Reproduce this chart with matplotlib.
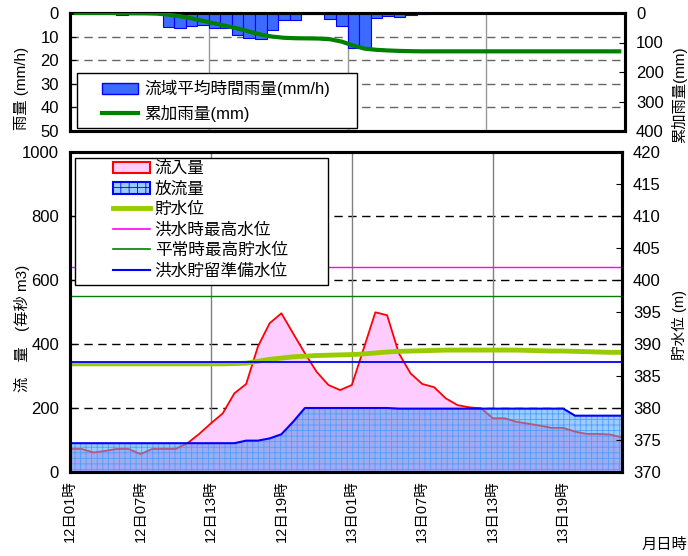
import matplotlib
matplotlib.use("Agg")
import matplotlib.pyplot as plt
import numpy as np
from matplotlib.patches import Patch, Rectangle
from matplotlib.lines import Line2D

# 時刻 (12日01時 からの経過時間)
hours = np.arange(48)
time_ticks = [0, 6, 12, 18, 24, 30, 36, 42]
time_labels = ["12日01時", "12日07時", "12日13時", "12日19時",
               "13日01時", "13日07時", "13日13時", "13日19時"]

# 流域平均時間雨量 (mm/h)
rain = [0, 0, 0, 0, 1.0, 0, 0, 0, 6.0, 6.5, 5.7, 4.9, 6.3, 6.5, 9.4, 10.5,
        11.0, 7.4, 3.0, 3.0, 0.3, 0.3, 2.4, 5.7, 15.0, 15.0, 2.1, 1.4, 1.7, 0.8, 0.4, 0.2,
        0, 0, 0, 0, 0, 0, 0, 0, 0, 0, 0, 0, 0, 0, 0, 0]
# 累加雨量 (mm)
rain_cum = [0, 0, 0, 0, 1, 1, 1, 2, 5.5, 11, 18, 26.5, 35.5, 44, 52.5, 63,
            73, 80, 84, 85.6, 86, 86.6, 89, 97, 110.5, 121, 124.8, 127, 128.5, 129.5, 130, 130,
            130, 130, 130, 130, 130, 130, 130, 130, 130, 130, 130, 130, 130, 130, 130, 130]

# 流入量・放流量 (m3/s)
inflow = [72, 72, 61, 66, 72, 72, 56, 72, 72, 72, 90, 119, 152, 183, 246, 275,
          392, 465, 496, 433, 371, 313, 272, 256, 272, 385, 499, 490, 371, 308, 275, 265,
          230, 209, 202, 199, 168, 168, 157, 151, 145, 138, 138, 126, 119, 119, 117, 108]
outflow = [90, 90, 90, 90, 90, 90, 90, 90, 90, 90, 90, 90, 90, 90, 90, 98,
           98, 105, 118, 157, 200, 200, 200, 200, 200, 200, 200, 200, 198, 198, 198, 198,
           198, 198, 198, 198, 198, 198, 198, 198, 198, 198, 198, 176, 176, 176, 176, 176]

# 貯水位 (m)
level = [386.9, 386.9, 386.9, 386.9, 386.9, 386.9, 386.9, 386.9, 386.9, 386.9, 386.9, 386.9,
         386.9, 386.9, 386.95, 387.0, 387.3, 387.6, 387.8, 388.0, 388.1, 388.2, 388.25, 388.3,
         388.35, 388.45, 388.6, 388.75, 388.85, 388.9, 388.95, 389.0, 389.05, 389.05, 389.05, 389.05,
         389.05, 389.05, 389.05, 389.0, 388.95, 388.9, 388.9, 388.85, 388.8, 388.75, 388.7, 388.7]
flood_max_level = 402.0
normal_max_level = 397.5
flood_reserve_level = 387.2

plt.rcParams["font.family"] = ["Liberation Sans", "Noto Sans CJK JP", "DejaVu Sans"]
plt.rcParams["hatch.linewidth"] = 0.6

fig = plt.figure(figsize=(6.88, 5.56), dpi=100)
W, H = 688, 556
ax_r = fig.add_axes([70 / W, 1 - 131 / H, 555 / W, 118 / H])
ax_q = fig.add_axes([70 / W, 1 - 472 / H, 552 / W, 320 / H])

tick_fs = 12

# ---- 雨量 ----
ax_r.bar(hours, rain, width=1, align="edge", color="#3d6bff", edgecolor="#0000ff",
         linewidth=0.8, zorder=2)
ax_r.set_xlim(0, 48)
ax_r.set_ylim(50, 0)
ax_r.set_yticks(range(0, 51, 10))
ax_r.set_xticks([])
for v in (10, 20, 30, 40):
    ax_r.axhline(v, color="#666666", lw=1, ls=(0, (6, 4)), zorder=1)
for v in (12, 24, 36):
    ax_r.axvline(v, color="#999999", lw=1, zorder=1)
ax_r.tick_params(axis="y", direction="in", length=4, labelsize=tick_fs, pad=8)
ax_r.set_zorder(1)

ax_c = ax_r.twinx()
ax_c.plot(hours + 0.5, rain_cum, color="#008000", lw=3, zorder=3)
ax_c.set_ylim(400, 0)
ax_c.set_yticks(range(0, 401, 100))
ax_c.tick_params(axis="y", direction="in", length=4, labelsize=tick_fs, pad=8)
for a in (ax_r, ax_c):
    for s in a.spines.values():
        s.set_linewidth(2.2)

# 凡例枠 (雨量)
ax_c.add_patch(Rectangle((0.0126, 0.0254), 0.504, 0.466, transform=ax_c.transAxes,
                         facecolor="white", edgecolor="black", lw=1, zorder=4.9, clip_on=False))
ax_c.legend(handles=[Patch(facecolor="#3d6bff", edgecolor="#0000ff", linewidth=1),
                     Line2D([], [], color="#008000", lw=3)],
            labels=["流域平均時間雨量(mm/h)", "累加雨量(mm)"],
            loc="upper left", bbox_to_anchor=(0.0577, 0.43), fontsize=12,
            frameon=False, handlelength=2.15, handletextpad=0.4, labelspacing=0.45,
            borderpad=0, borderaxespad=0)

# ---- 流量 ----
ax_q.fill_between(hours, inflow, color="#ffccff", lw=0, zorder=1)
ax_q.plot(hours, inflow, color="#ff0000", lw=1.3, zorder=2)
out_area = ax_q.fill_between(hours, outflow, color="#99ccff", lw=0, zorder=3)
ax_q.fill_between(hours, np.minimum(inflow, outflow), color="#a4aaf2", lw=0, zorder=3.1)
ax_q.fill_between(hours, outflow, facecolor="none", edgecolor="#4d9fff",
                  hatch="+++", lw=0, zorder=3.2)
under, = ax_q.plot(hours, inflow, color="#b05a80", lw=1.3, zorder=3.3)
under.set_clip_path(out_area.get_paths()[0], out_area.get_transform())
ax_q.plot(hours, outflow, color="#0000ff", lw=1.5, zorder=4)

ax_q.set_xlim(0, 47)
ax_q.set_ylim(0, 1000)
ax_q.set_yticks(range(0, 1001, 200))
for v in (200, 400, 600, 800):
    ax_q.axhline(v, color="black", lw=1, ls=(0, (6, 4)), zorder=0.5)
for v in (12, 24, 36):
    ax_q.axvline(v, color="#808080", lw=1, zorder=0.5)
ax_q.set_xticks(time_ticks)
ax_q.set_xticklabels(time_labels, rotation=90, fontsize=10.5)
ax_q.tick_params(axis="x", direction="in", length=4, pad=6)
ax_q.tick_params(axis="y", direction="in", length=4, labelsize=tick_fs, pad=8)

ax_h = ax_q.twinx()
ax_h.plot(hours, level, color="#99cc00", lw=3.5)
ax_h.axhline(flood_max_level, color="#ff00ff", lw=1)
ax_h.axhline(normal_max_level, color="#008000", lw=1)
ax_h.axhline(flood_reserve_level, color="#0000ff", lw=1.3)
ax_h.set_ylim(370, 420)
ax_h.set_yticks(range(370, 421, 5))
ax_h.tick_params(axis="y", direction="in", length=4, labelsize=tick_fs, pad=8)
for a in (ax_q, ax_h):
    for s in a.spines.values():
        s.set_linewidth(2.2)

# 凡例枠 (流量・水位)
ax_h.add_patch(Rectangle((0.0091, 0.584), 0.458, 0.397, transform=ax_h.transAxes,
                         facecolor="white", edgecolor="black", lw=1, zorder=4.9, clip_on=False))
ax_h.legend(handles=[Patch(facecolor="#ffccff", edgecolor="#ff0000", linewidth=1.5),
                     Patch(facecolor="#99ccff", edgecolor="#0000ff", linewidth=1.5, hatch="++"),
                     Line2D([], [], color="#99cc00", lw=3.5),
                     Line2D([], [], color="#ff00ff", lw=1.2),
                     Line2D([], [], color="#008000", lw=1.2),
                     Line2D([], [], color="#0000ff", lw=1.5)],
            labels=["流入量", "放流量", "貯水位", "洪水時最高水位", "平常時最高貯水位", "洪水貯留準備水位"],
            loc="upper left", bbox_to_anchor=(0.078, 0.972), fontsize=12,
            frameon=False, handlelength=2.2, handletextpad=0.3, labelspacing=0.31,
            borderpad=0, borderaxespad=0)

# 軸ラベル
fig.text(22 / W, 1 - 88 / H, "雨量 (mm/h)", rotation=90, ha="center", va="center", fontsize=11)
fig.text(679 / W, 1 - 95 / H, "累加雨量(mm)", rotation=90, ha="center", va="center", fontsize=11)
fig.text(22 / W, 1 - 328 / H, "流　量　(毎秒 m3)", rotation=90, ha="center", va="center", fontsize=11)
fig.text(679 / W, 1 - 325 / H, "貯水位 (m)", rotation=90, ha="center", va="center", fontsize=10.5)
fig.text(664 / W, 1 - 545 / H, "月日時", ha="center", va="center", fontsize=11)

fig.savefig("out.png", dpi=100)
